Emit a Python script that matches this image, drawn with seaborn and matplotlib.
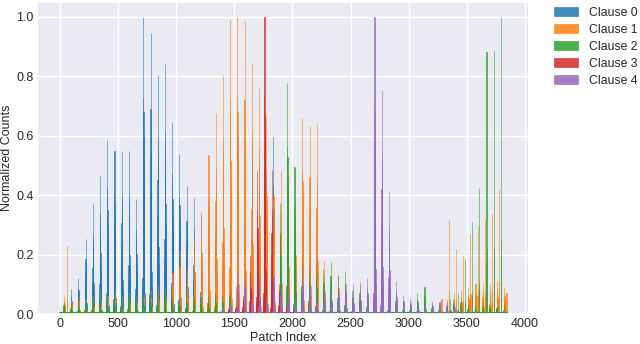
import numpy as np
import pandas as pd
import seaborn as sns
import matplotlib
matplotlib.use("Agg")
import matplotlib.pyplot as plt

# 62 x 62 patch grid -> patch index = 62*row + col
n_side = 62
clauses = ["Clause 0", "Clause 1", "Clause 2", "Clause 3", "Clause 4"]
colors = ["#1f77b4", "#ff7f0e", "#2ca02c", "#d62728", "#9467bd"]

# main spike per image row (height of the tallest patch in that row)
c0_col = 38
c0_peaks = [0.03, 0.083, 0.12, 0.254, 0.371, 0.465, 0.586, 0.55, 0.55, 0.55,
            0.387, 1.0, 0.945, 0.805, 0.842, 0.646, 0.54, 0.43, 0.39, 0.33,
            0.3, 0.23, 0.235, 0.24, 0.05, 0.03, 0.03, 0.02, 0.02, 0.597,
            0.02, 0.01, 0.01, 0.01, 0.01, 0.01, 0, 0, 0, 0,
            0, 0, 0, 0, 0, 0, 0, 0, 0, 0,
            0, 0, 0, 0, 0, 0, 0, 0, 0, 0,
            0, 0]
c1_col = 40
c1_peaks = [0.06, 0.05, 0.06, 0.05, 0.06, 0.07, 0.06, 0.07, 0.06, 0.07,
            0.06, 0.07, 0.08, 0.1, 0.08, 0.138, 0.215, 0.16, 0.266, 0.345,
            0.535, 0.677, 0.805, 0.99, 1.0, 0.985, 0.844, 0.76, 0.664, 0.4,
            0.48, 0.44, 0.38, 0.66, 0.633, 0.64, 0.18, 0.05, 0.13, 0.08,
            0.05, 0.11, 0.03, 0.03, 0.02, 0.03, 0.02, 0.02, 0.02, 0.02,
            0.02, 0.02, 0.03, 0.05, 0.07, 0.08, 0.09, 0.1, 0.1, 0.1,
            0.11, 0.09]
c2_col = 35
c2_peaks = [0.04, 0.05, 0.05, 0.06, 0.05, 0.06, 0.07, 0.06, 0.06, 0.07,
            0.06, 0.07, 0.06, 0.06, 0.07, 0.06, 0.06, 0.07, 0.05, 0.06,
            0.06, 0.07, 0.06, 0.08, 0.06, 0.07, 0.07, 0.08, 0.1, 0.12,
            0.373, 0.777, 0.496, 0.17, 0.15, 0.17, 0.15, 0.175, 0.13, 0.145,
            0.08, 0.07, 0.04, 0.05, 0.04, 0.08, 0.06, 0.03, 0.05, 0.07,
            0.09, 0.03, 0.03, 0.03, 0.05, 0.04, 0.03, 0.03, 0.03, 0.03,
            0.03, 0.03]
c3_col = 25
c3_peaks = [0, 0, 0, 0, 0, 0, 0, 0, 0, 0,
            0, 0, 0, 0, 0, 0, 0, 0, 0, 0,
            0, 0, 0, 0.02, 0.03, 0.06, 0.2, 0.48, 1.0, 0.485,
            0.1, 0.03, 0.02, 0, 0, 0, 0, 0, 0, 0,
            0, 0, 0, 0, 0, 0, 0, 0, 0, 0,
            0, 0, 0, 0, 0, 0, 0, 0, 0, 0,
            0, 0]
c4_col = 40
c4_peaks = [0, 0, 0, 0, 0, 0, 0, 0, 0, 0,
            0, 0, 0, 0, 0, 0, 0, 0, 0, 0,
            0, 0, 0.03, 0.05, 0.142, 0.126, 0.11, 0.13, 0.06, 0.126,
            0.11, 0.105, 0.06, 0.137, 0.115, 0.06, 0.105, 0.08, 0.091, 0.1,
            0.1, 0.1, 0.12, 1.0, 0.754, 0.412, 0.11, 0.064, 0.041, 0.045,
            0.04, 0.045, 0.04, 0.045, 0.04, 0.02, 0.01, 0.01, 0.01, 0.01,
            0.01, 0.01]

# extra narrow spikes (row, col, height)
c1_extra_rows = [1, 52, 53, 54, 55, 56, 57, 58, 59, 60, 61]
c1_extra_cols = [1, 58, 58, 58, 58, 58, 58, 58, 58, 58, 58]
c1_extra_vals = [0.23, 0.05, 0.316, 0.22, 0.195, 0.27, 0.296, 0.316, 0.34, 0.42, 0.07]
c2_extra_rows = [54, 55, 56, 57, 58, 59, 60, 61]
c2_extra_cols = [10, 10, 10, 10, 10, 10, 10, 10]
c2_extra_vals = [0.05, 0.07, 0.185, 0.31, 0.423, 0.883, 0.889, 1.0]

# low background level per clause (first row, last row, level)
floor_c0 = [(0, 29, 0.003)]
floor_c1 = [(0, 61, 0.006)]
floor_c2 = [(0, 61, 0.006)]
floor_c3 = [(0, 29, 0.005)]
floor_c4 = [(24, 61, 0.005)]

# shape of a spike across neighbouring patches
spike_offsets = list(range(-12, 13))
spike_shape = [0.03, 0.04, 0.05, 0.07, 0.09, 0.12, 0.16, 0.22, 0.3, 0.42, 0.56, 0.73,
               1.0, 0.68, 0.6, 0.52, 0.44, 0.36, 0.28, 0.21, 0.15, 0.1, 0.07, 0.05, 0.03]
thin_offsets = [-1, 0, 1]
thin_shape = [0.2, 1.0, 0.25]


def build(col, peaks, floors, ex_rows=(), ex_cols=(), ex_vals=()):
    v = np.zeros(n_side * n_side)
    for r0, r1, lvl in floors:
        v[r0 * n_side:(r1 + 1) * n_side] = lvl
    for r, p in enumerate(peaks):
        for o, s in zip(spike_offsets, spike_shape):
            i = r * n_side + col + o
            if 0 <= i < v.size:
                v[i] = max(v[i], p * s)
    for r, c, p in zip(ex_rows, ex_cols, ex_vals):
        for o, s in zip(thin_offsets, thin_shape):
            i = r * n_side + c + o
            if 0 <= i < v.size:
                v[i] = max(v[i], p * s)
    return v


series = [
    build(c0_col, c0_peaks, floor_c0),
    build(c1_col, c1_peaks, floor_c1, c1_extra_rows, c1_extra_cols, c1_extra_vals),
    build(c2_col, c2_peaks, floor_c2, c2_extra_rows, c2_extra_cols, c2_extra_vals),
    build(c3_col, c3_peaks, floor_c3),
    build(c4_col, c4_peaks, floor_c4),
]
patch = np.arange(n_side * n_side)

sns.set_theme(style="darkgrid")
plt.rcParams["font.family"] = ["Liberation Sans", "DejaVu Sans"]

fig = plt.figure(figsize=(6.4, 3.44), dpi=100)
ax = fig.add_axes([0.058, 0.087, 0.769, 0.907])

for name, col, vals in zip(clauses, colors, series):
    df = pd.DataFrame({"patch": patch, "count": vals})
    sns.histplot(data=df, x="patch", weights="count", discrete=True,
                 color=col, alpha=0.85, edgecolor=col, linewidth=0.4,
                 label=name, ax=ax)

ax.set_ylim(0, 1.05)
ax.set_xlabel("Patch Index", fontsize=9, labelpad=2)
ax.set_ylabel("Normalized Counts", fontsize=9, labelpad=2)
ax.tick_params(labelsize=9, length=0, pad=2.5)
ax.legend(loc="upper left", bbox_to_anchor=(1.04, 1.0), frameon=False,
          fontsize=8.8, handlelength=2.0, handletextpad=0.85,
          labelspacing=0.4, borderaxespad=0.0)

fig.savefig("out.png", dpi=100)
